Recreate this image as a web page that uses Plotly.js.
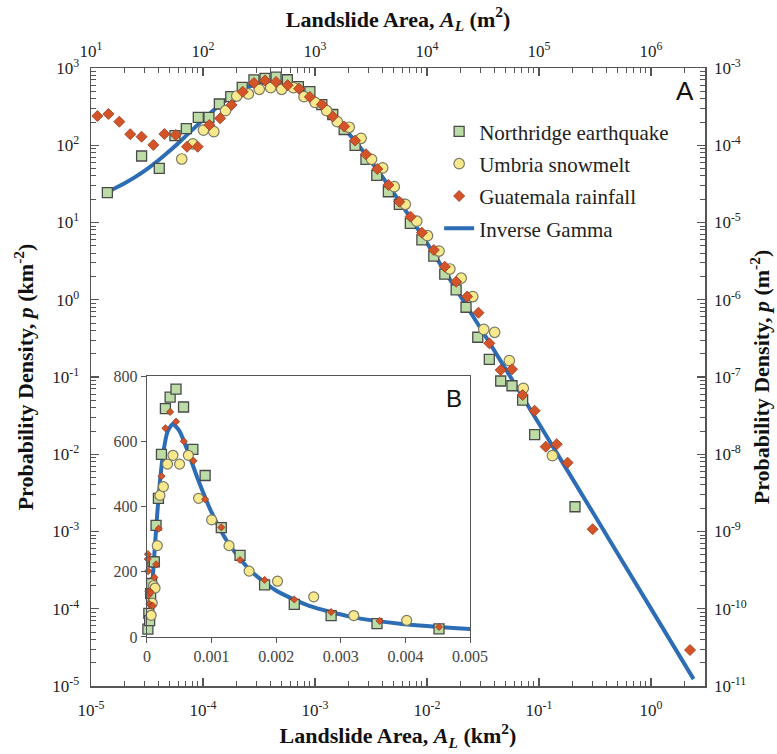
<!DOCTYPE html>
<html><head><meta charset="utf-8">
<script src="https://cdn.plot.ly/plotly-3.0.1.min.js"></script>
<style>html,body{margin:0;padding:0;background:#fff}#chart{width:777px;height:754px}</style>
</head><body><div id="chart"></div>
<script>
// ---- data (landslide area A_L in km^2, probability density p in km^-2) ----
const northridgeArea = [1.40e-5, 2.83e-5, 4.07e-5, 5.62e-5, 7.1e-5, 9.08e-5, 1.13e-4, 1.40e-4, 1.77e-4, 2.24e-4, 2.85e-4, 3.58e-4, 4.49e-4, 5.66e-4, 7.1e-4, 9.0e-4, 1.15e-3, 1.44e-3, 1.82e-3, 2.28e-3, 2.85e-3, 3.56e-3, 4.52e-3, 5.66e-3, 7.1e-3, 9.0e-3, 1.15e-2, 1.44e-2, 1.82e-2, 2.23e-2, 2.84e-2, 3.60e-2, 4.55e-2, 5.74e-2, 7.14e-2, 9.14e-2, 0.2095];
const northridgeDensity = [24.3, 72.6, 50.3, 133, 164, 230, 230, 342, 425, 560, 700, 735, 760, 705, 575, 495, 335, 250, 160, 99.8, 65.8, 40.8, 25, 17.2, 9.77, 5.94, 3.68, 2.15, 1.34, 0.80, 0.327, 0.169, 0.0887, 0.0771, 0.0503, 0.0179, 2.09e-3];

const umbriaArea = [6.46e-5, 8.1e-5, 1.01e-4, 1.25e-4, 1.59e-4, 2.0e-4, 2.54e-4, 3.18e-4, 4.02e-4, 5.04e-4, 6.40e-4, 7.98e-4, 1.0e-3, 1.27e-3, 1.58e-3, 2.02e-3, 2.58e-3, 3.2e-3, 4.02e-3, 5.1e-3, 6.4e-3, 8.1e-3, 1.01e-2, 1.28e-2, 1.60e-2, 2.02e-2, 2.56e-2, 3.21e-2, 4.02e-2, 5.43e-2, 7.24e-2, 0.1316];
const umbriaDensity = [66.4, 104, 157, 150, 280, 434, 461, 530, 557, 530, 557, 425, 359, 280, 202, 171, 123, 65.8, 51, 29.1, 17.2, 10.4, 6.75, 4.27, 2.50, 1.90, 1.10, 0.414, 0.379, 0.163, 0.0714, 9.57e-3];

const guatemalaArea = [1.14e-5, 1.43e-5, 1.79e-5, 2.24e-5, 2.83e-5, 3.6e-5, 4.52e-5, 5.71e-5, 7.2e-5, 8.96e-5, 1.14e-4, 1.42e-4, 1.80e-4, 2.26e-4, 2.85e-4, 3.58e-4, 4.49e-4, 5.70e-4, 7.2e-4, 9.0e-4, 1.15e-3, 1.44e-3, 1.82e-3, 2.28e-3, 2.85e-3, 3.6e-3, 4.52e-3, 5.66e-3, 7.13e-3, 9.0e-3, 1.15e-2, 1.44e-2, 1.82e-2, 2.28e-2, 2.88e-2, 3.60e-2, 4.55e-2, 5.74e-2, 7.14e-2, 9.14e-2, 0.1148, 0.1439, 0.180, 0.301, 2.23];
const guatemalaDensity = [239, 254, 202, 139, 129, 101, 140, 136, 95.7, 95.7, 183, 223, 332, 493, 640, 690, 660, 600, 540, 422, 336, 236, 175, 115, 76.4, 49.3, 30.6, 18.6, 11.9, 7.38, 4.41, 2.68, 1.71, 1.10, 0.679, 0.273, 0.123, 0.126, 0.0585, 0.0366, 0.01253, 0.01346, 7.78e-3, 1.07e-3, 2.92e-5];

// Inverse Gamma curve
const fitArea = [1.4e-5, 1.585e-5, 1.995e-5, 2.512e-5, 3.162e-5, 3.981e-5, 5.012e-5, 6.310e-5, 7.943e-5, 1.0e-4, 1.259e-4, 1.585e-4, 1.995e-4, 2.512e-4, 3.162e-4, 3.981e-4, 5.012e-4, 6.310e-4, 7.943e-4, 1.0e-3, 1.259e-3, 1.585e-3, 1.995e-3, 2.512e-3, 3.162e-3, 3.981e-3, 5.012e-3, 6.310e-3, 7.943e-3, 1.0e-2, 3.162e-2, 0.1, 0.3162, 1.0, 2.4];
const fitDensity = [25.1, 27.2, 32.2, 39.2, 49.1, 63.4, 84.1, 113.8, 155.8, 213.2, 287.8, 377.5, 474.2, 563.8, 628.4, 653.0, 631.6, 569.4, 480.5, 381.7, 287.4, 206.5, 142.5, 95.15, 61.75, 39.18, 24.37, 14.94, 9.038, 5.413, 0.3803, 0.02484, 1.585e-3, 1.003e-4, 1.228e-5];
const fitStartArea = [0, 5e-6];
const fitStartDensity = [12.6, 16.45];

// tick labels
const bottomTickVals = [1e-5, 1e-4, 1e-3, 1e-2, 1e-1, 1];
const bottomTickText = ['10<sup>-5</sup>', '10<sup>-4</sup>', '10<sup>-3</sup>', '10<sup>-2</sup>', '10<sup>-1</sup>', '10<sup>0</sup>'];
const topTickVals = [1e1, 1e2, 1e3, 1e4, 1e5, 1e6];
const topTickText = ['10<sup>1</sup>', '10<sup>2</sup>', '10<sup>3</sup>', '10<sup>4</sup>', '10<sup>5</sup>', '10<sup>6</sup>'];
const leftTickVals = [1e-5, 1e-4, 1e-3, 1e-2, 1e-1, 1, 1e1, 1e2, 1e3];
const leftTickText = ['10<sup>-5</sup>', '10<sup>-4</sup>', '10<sup>-3</sup>', '10<sup>-2</sup>', '10<sup>-1</sup>', '10<sup>0</sup>', '10<sup>1</sup>', '10<sup>2</sup>', '10<sup>3</sup>'];
const rightTickVals = [1e-11, 1e-10, 1e-9, 1e-8, 1e-7, 1e-6, 1e-5, 1e-4, 1e-3];
const rightTickText = ['10<sup>-11</sup>', '10<sup>-10</sup>', '10<sup>-9</sup>', '10<sup>-8</sup>', '10<sup>-7</sup>', '10<sup>-6</sup>', '10<sup>-5</sup>', '10<sup>-4</sup>', '10<sup>-3</sup>'];

const KM2_TO_M2 = 1e6;

function minorTicks(d0, d1) {
  const out = [];
  for (let d = d0; d <= d1; d++) for (let k = 2; k <= 9; k++) out.push(k * Math.pow(10, d));
  return out;
}

const serif = 'Liberation Serif, Times New Roman, serif';
const axisCol = '#555555';
const inset = (a, p) => {
  const xs = [], ys = [];
  a.forEach((v, i) => { if (v <= 0.0051) { xs.push(v); ys.push(p[i]); } });
  return [xs, ys];
};

const sqStyle = {symbol: 'square', size: 10, color: '#bcdca6', line: {color: '#4a4a4a', width: 1.3}};
const ciStyle = {symbol: 'circle', size: 10.5, color: '#f8ea8c', line: {color: '#7a7a66', width: 1.2}};
const diStyle = {symbol: 'diamond', size: 8.5, color: '#d4542a', line: {color: '#9c3a1c', width: 0.8}};
const lineStyle = {color: '#2d6db6', width: 4, shape: 'spline', smoothing: 0.6};

const [nrX, nrY] = inset(northridgeArea, northridgeDensity);
const [umX, umY] = inset(umbriaArea, umbriaDensity);
const [guX, guY] = inset(guatemalaArea, guatemalaDensity);
const [fX, fY] = inset(fitArea, fitDensity);

const data = [
  {x: fitArea, y: fitDensity, type: 'scatter', mode: 'lines', name: 'Inverse Gamma', line: lineStyle, legendrank: 4, legendgroup: 'g4', cliponaxis: true},
  {x: northridgeArea, y: northridgeDensity, type: 'scatter', mode: 'markers', name: 'Northridge earthquake', marker: sqStyle, legendrank: 1, legendgroup: 'g1', cliponaxis: false},
  {x: umbriaArea, y: umbriaDensity, type: 'scatter', mode: 'markers', name: 'Umbria snowmelt', marker: ciStyle, legendrank: 2, legendgroup: 'g2', cliponaxis: false},
  {x: guatemalaArea, y: guatemalaDensity, type: 'scatter', mode: 'markers', name: 'Guatemala rainfall', marker: diStyle, legendrank: 3, legendgroup: 'g3', cliponaxis: false},
  // helper trace on m^2 / m^-2 axes (invisible)
  {x: fitArea.map(v => v * KM2_TO_M2), y: fitDensity.map(v => v / KM2_TO_M2), xaxis: 'x2', yaxis: 'y2', type: 'scatter', mode: 'lines', line: {width: 0, color: 'rgba(0,0,0,0)'}, showlegend: false, hoverinfo: 'skip'},
  // inset B
  {x: fitStartArea.concat(fX), y: fitStartDensity.concat(fY), xaxis: 'x3', yaxis: 'y3', type: 'scatter', mode: 'lines', line: lineStyle, showlegend: false},
  {x: nrX, y: nrY, xaxis: 'x3', yaxis: 'y3', type: 'scatter', mode: 'markers', marker: Object.assign({}, sqStyle, {size: 10}), showlegend: false, cliponaxis: false},
  {x: umX, y: umY, xaxis: 'x3', yaxis: 'y3', type: 'scatter', mode: 'markers', marker: Object.assign({}, ciStyle, {size: 10}), showlegend: false, cliponaxis: false},
  {x: guX, y: guY, xaxis: 'x3', yaxis: 'y3', type: 'scatter', mode: 'markers', marker: Object.assign({}, diStyle, {size: 5.5}), showlegend: false, cliponaxis: false}
];

const logAxisBase = {
  type: 'log', tickmode: 'array', ticks: 'inside', ticklen: 8, tickwidth: 1.2, tickcolor: axisCol,
  showline: true, linecolor: axisCol, linewidth: 1.5, showgrid: false, zeroline: false,
  tickfont: {family: serif, size: 17, color: '#222'}
};
const minorBase = {tickmode: 'array', ticks: 'inside', ticklen: 5, tickwidth: 1, tickcolor: axisCol, showgrid: false};
const titleFont = {family: serif, size: 22, color: '#111', weight: 'bold'};

const layout = {
  width: 777, height: 754,
  margin: {l: 91, r: 72, t: 68, b: 68},
  paper_bgcolor: '#ffffff', plot_bgcolor: '#ffffff',
  font: {family: serif, size: 16, color: '#222'},
  showlegend: true,
  legend: {x: 0.567, y: 0.93, xanchor: 'left', yanchor: 'top', bgcolor: 'rgba(0,0,0,0)',
           font: {family: serif, size: 21, color: '#222'}, traceorder: 'grouped', tracegroupgap: 2},
  xaxis: Object.assign({}, logAxisBase, {
    range: [-5, 0.482], tickvals: bottomTickVals, ticktext: bottomTickText, anchor: 'y', ticklabelstandoff: 8,
    minor: Object.assign({}, minorBase, {tickvals: minorTicks(-5, 0)}),
    title: {text: 'Landslide Area, <i>A<sub>L</sub></i> (km<sup>2</sup>)', font: titleFont, standoff: 8}
  }),
  xaxis2: Object.assign({}, logAxisBase, {
    range: [1, 6.482], tickvals: topTickVals, ticktext: topTickText, overlaying: 'x', side: 'top', anchor: 'y', ticklabelstandoff: 3,
    minor: Object.assign({}, minorBase, {tickvals: minorTicks(1, 6)}),
    title: {text: 'Landslide Area, <i>A<sub>L</sub></i> (m<sup>2</sup>)', font: titleFont, standoff: 5}
  }),
  yaxis: Object.assign({}, logAxisBase, {
    range: [-5, 3], tickvals: leftTickVals, ticktext: leftTickText, anchor: 'x', ticklabelstandoff: 7,
    minor: Object.assign({}, minorBase, {tickvals: minorTicks(-5, 2)}),
    title: {text: 'Probability Density, <i>p</i> (km<sup>-2</sup>)', font: titleFont, standoff: 12}
  }),
  yaxis2: Object.assign({}, logAxisBase, {
    range: [-11, -3], tickvals: rightTickVals, ticktext: rightTickText, overlaying: 'y', side: 'right', anchor: 'x', ticklabelstandoff: 4,
    minor: Object.assign({}, minorBase, {tickvals: minorTicks(-11, -4)}),
    title: {text: 'Probability Density, <i>p</i> (m<sup>-2</sup>)', font: titleFont, standoff: 8}
  }),
  xaxis3: {
    domain: [0.0912, 0.6173], anchor: 'y3', range: [0, 0.005], dtick: 0.001, tick0: 0,
    ticks: 'outside', ticklen: 5, tickcolor: axisCol, showline: true, linecolor: axisCol, linewidth: 1.3,
    mirror: true, showgrid: false, zeroline: false, tickfont: {family: serif, size: 16, color: '#444'}
  },
  yaxis3: {
    domain: [0.0793, 0.5016], anchor: 'x3', range: [0, 800], dtick: 200, tick0: 0,
    ticks: 'outside', ticklen: 5, tickcolor: axisCol, showline: true, linecolor: axisCol, linewidth: 1.3,
    mirror: true, showgrid: false, zeroline: false, tickfont: {family: serif, size: 16, color: '#444'}
  },
  annotations: [
    {text: 'A', xref: 'paper', yref: 'paper', x: 0.968, y: 0.962, xanchor: 'center', yanchor: 'middle', showarrow: false,
     font: {family: 'Liberation Sans, Arial, sans-serif', size: 26, color: '#111'}},
    {text: 'B', xref: 'paper', yref: 'paper', x: 0.591, y: 0.466, xanchor: 'center', yanchor: 'middle', showarrow: false,
     font: {family: 'Liberation Sans, Arial, sans-serif', size: 24, color: '#111'}}
  ]
};

Plotly.newPlot('chart', data, layout, {displayModeBar: false, staticPlot: true});
</script>
</body></html>
